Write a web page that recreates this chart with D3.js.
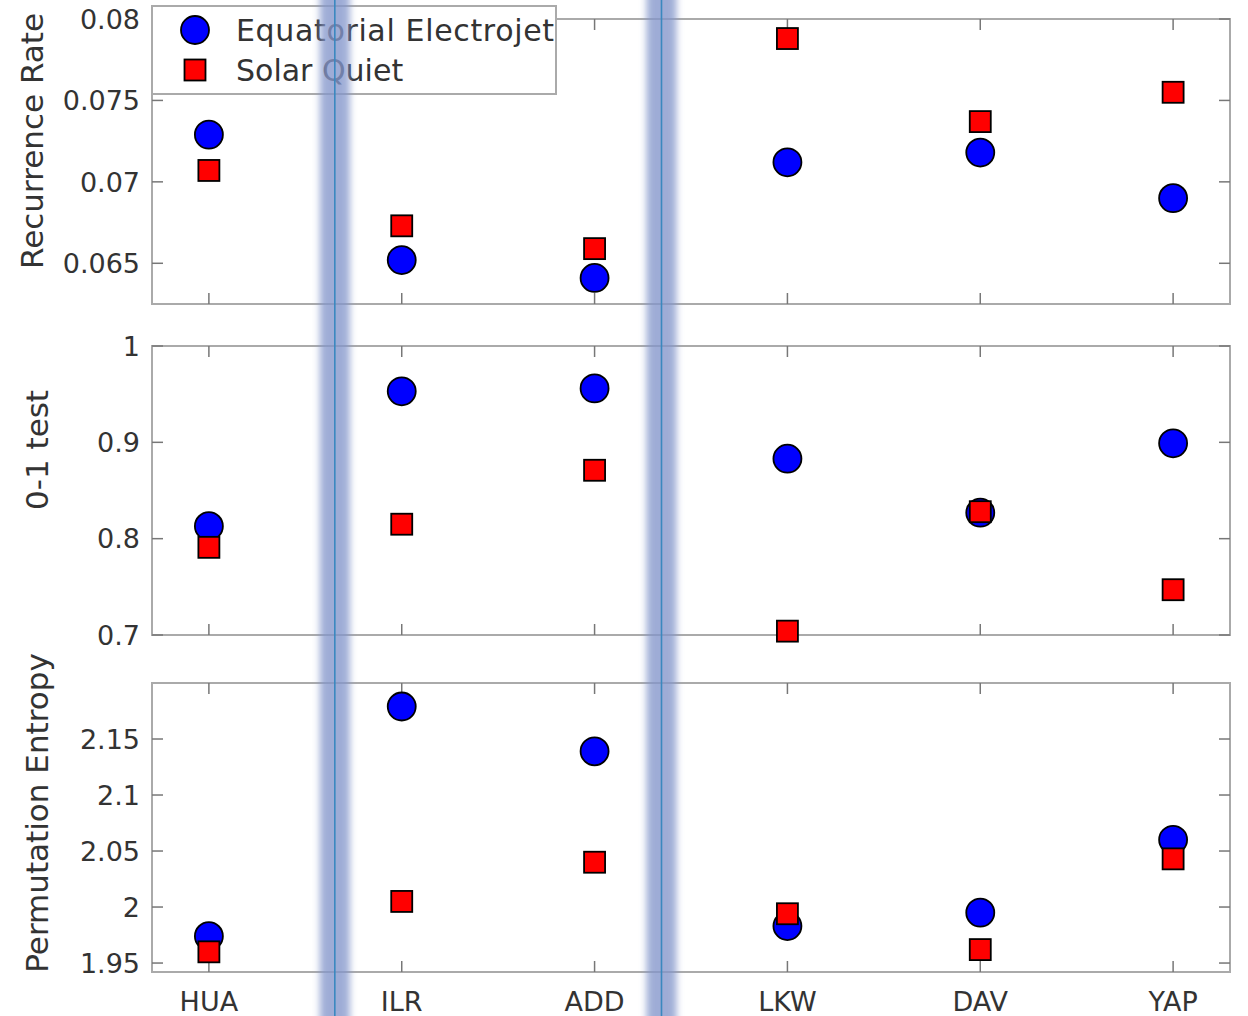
<!DOCTYPE html>
<html>
<head>
<meta charset="utf-8">
<script src="https://cdn.jsdelivr.net/npm/d3@7"></script>
<style>
  body { margin: 0; background: #fff; }
  text { font-family: "DejaVu Sans", sans-serif; fill: #333; }
</style>
</head>
<body>
<script>
var stations = ["HUA", "ILR", "ADD", "LKW", "DAV", "YAP"];

var rrEEJ = [0.0729, 0.0652, 0.0641, 0.0712, 0.0718, 0.0690];
var rrSQ  = [0.0707, 0.0673, 0.0659, 0.0788, 0.0737, 0.0755];

var zoEEJ = [0.813, 0.953, 0.956, 0.883, 0.827, 0.899];
var zoSQ  = [0.791, 0.815, 0.871, 0.704, 0.828, 0.747];

var peEEJ = [1.974, 2.179, 2.139, 1.983, 1.995, 2.060];
var peSQ  = [1.960, 2.005, 2.040, 1.994, 1.962, 2.043];

var rrTicks = [0.065, 0.07, 0.075, 0.08];
var zoTicks = [0.7, 0.8, 0.9, 1];
var peTicks = [1.95, 2, 2.05, 2.1, 2.15];

// separators between station groups, in station-index units
var bands = [0.653, 2.347];

var width = 1248, height = 1016;

var svg = d3.select("body").append("svg")
    .attr("width", width)
    .attr("height", height);

svg.append("defs").append("filter")
    .attr("id", "blur")
    .attr("x", "-100%").attr("width", "300%")
  .append("feGaussianBlur")
    .attr("stdDeviation", 3.5);

var x = d3.scaleLinear().domain([-0.295, 5.295]).range([152, 1230]);

var panels = [
  { label: "Recurrence Rate", eej: rrEEJ, sq: rrSQ, ticks: rrTicks, domain: [0.0625, 0.08], top: 19, bottom: 304, lx: 32, ly: 141 },
  { label: "0-1 test", eej: zoEEJ, sq: zoSQ, ticks: zoTicks, domain: [0.7, 1], top: 346, bottom: 635, lx: 37, ly: 450 },
  { label: "Permutation Entropy", eej: peEEJ, sq: peSQ, ticks: peTicks, domain: [1.942, 2.2], top: 683, bottom: 972, lx: 37, ly: 813 }
];

panels.forEach(function(p, pi) {
  var y = d3.scaleLinear().domain(p.domain).range([p.bottom, p.top]);
  var g = svg.append("g");

  g.append("rect")
      .attr("x", x.range()[0]).attr("y", p.top)
      .attr("width", x.range()[1] - x.range()[0])
      .attr("height", p.bottom - p.top)
      .attr("fill", "none")
      .attr("stroke", "#aaa")
      .attr("stroke-width", 2);

  // inward ticks, all four sides
  var tick = 11;
  stations.forEach(function(s, i) {
    g.append("line").attr("x1", x(i)).attr("x2", x(i))
        .attr("y1", p.bottom).attr("y2", p.bottom - tick)
        .attr("stroke", "#777").attr("stroke-width", 1.5);
    g.append("line").attr("x1", x(i)).attr("x2", x(i))
        .attr("y1", p.top).attr("y2", p.top + tick)
        .attr("stroke", "#777").attr("stroke-width", 1.5);
  });
  p.ticks.forEach(function(t) {
    g.append("line").attr("x1", x.range()[0]).attr("x2", x.range()[0] + tick)
        .attr("y1", y(t)).attr("y2", y(t))
        .attr("stroke", "#777").attr("stroke-width", 1.5);
    g.append("line").attr("x1", x.range()[1]).attr("x2", x.range()[1] - tick)
        .attr("y1", y(t)).attr("y2", y(t))
        .attr("stroke", "#777").attr("stroke-width", 1.5);
    g.append("text")
        .attr("x", 140).attr("y", y(t))
        .attr("dy", "0.36em")
        .attr("text-anchor", "end")
        .style("font-size", "27px")
        .text(t);
  });

  g.append("text")
      .attr("transform", "translate(" + (p.lx + 11) + "," + p.ly + ") rotate(-90)")
      .attr("text-anchor", "middle")
      .style("font-size", "31px")
      .text(p.label);

  g.selectAll(".eej").data(p.eej).enter().append("circle")
      .attr("cx", function(d, i) { return x(i); })
      .attr("cy", function(d) { return y(d); })
      .attr("r", 14)
      .attr("fill", "#0000ff")
      .attr("stroke", "#000").attr("stroke-width", 1.8);

  g.selectAll(".sq").data(p.sq).enter().append("rect")
      .attr("x", function(d, i) { return x(i) - 10.5; })
      .attr("y", function(d) { return y(d) - 10.5; })
      .attr("width", 21).attr("height", 21)
      .attr("fill", "#ff0000")
      .attr("stroke", "#000").attr("stroke-width", 1.8);

  if (pi === 2) {
    stations.forEach(function(s, i) {
      g.append("text")
          .attr("x", x(i)).attr("y", 1011)
          .attr("text-anchor", "middle")
          .style("font-size", "27px")
          .text(s);
    });
  }
});

// legend
var lg = svg.append("g");
lg.append("rect")
    .attr("x", 152).attr("y", 6).attr("width", 404).attr("height", 88)
    .attr("fill", "#fff").attr("stroke", "#aaa").attr("stroke-width", 2);
lg.append("circle").attr("cx", 195).attr("cy", 30).attr("r", 14)
    .attr("fill", "#0000ff").attr("stroke", "#000").attr("stroke-width", 1.8);
lg.append("rect").attr("x", 184.5).attr("y", 59.5).attr("width", 21).attr("height", 21)
    .attr("fill", "#ff0000").attr("stroke", "#000").attr("stroke-width", 1.8);
lg.append("text").attr("x", 236).attr("y", 41).style("font-size", "30px")
    .attr("textLength", 318).text("Equatorial Electrojet");
lg.append("text").attr("x", 236).attr("y", 81).style("font-size", "30px")
    .text("Solar Quiet");

// blurred blue separators over everything
bands.forEach(function(b) {
  svg.append("rect")
      .attr("x", x(b) - 15).attr("y", -20)
      .attr("width", 30).attr("height", height + 40)
      .attr("fill", "#8496cb")
      .attr("opacity", 0.78)
      .attr("filter", "url(#blur)");
  svg.append("line")
      .attr("x1", x(b)).attr("x2", x(b))
      .attr("y1", 0).attr("y2", height)
      .attr("stroke", "#3a88bf").attr("stroke-width", 1.6);
});
</script>
</body>
</html>
